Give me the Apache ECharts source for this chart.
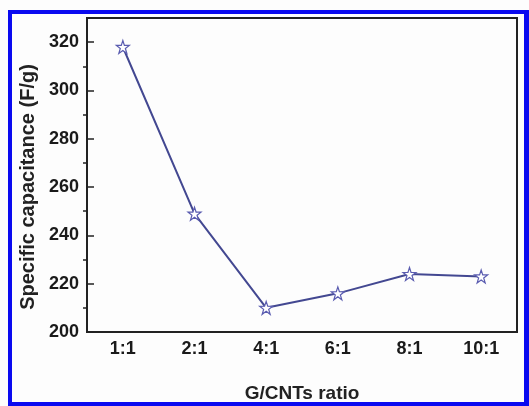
<!DOCTYPE html>
<html>
<head>
<meta charset="utf-8">
<script src="https://cdn.jsdelivr.net/npm/echarts@6/dist/echarts.min.js"></script>
<style>
html,body{margin:0;padding:0;background:#fff;}
#chart{width:529px;height:406px;}
</style>
</head>
<body>
<div id="chart"></div>
<script>
var categories = ['1:1', '2:1', '4:1', '6:1', '8:1', '10:1'];
var capacitance = [318, 249, 210, 216, 224, 223];
var yMin = 200, yMax = 330, yInterval = 20;
var minorTickValues = [210, 230, 250, 270, 290, 310];

var font = '"Liberation Sans", Arial, sans-serif';
var starPath = 'path://M50,0 L61.8,35.1 L98.9,35.5 L69.1,57.6 L80.2,93 L50,71.6 L19.8,93 L30.9,57.6 L1.1,35.5 L38.2,35.1 Z';

var chart = echarts.init(document.getElementById('chart'), null, {renderer: 'canvas'});
chart.setOption({
  backgroundColor: '#fdfdfd',
  animation: false,
  grid: {left: 87, right: 12, top: 18, bottom: 74, containLabel: false, outerBoundsMode: 'none',
    show: true, borderColor: '#222', borderWidth: 2, backgroundColor: 'transparent'},
  xAxis: {
    type: 'category',
    data: categories,
    boundaryGap: true,
    name: 'G/CNTs ratio',
    nameLocation: 'middle',
    nameGap: 52,
    nameTextStyle: {fontFamily: font, fontWeight: 'bold', fontSize: 19, color: '#222'},
    axisLine: {lineStyle: {color: '#222', width: 2}},
    axisTick: {alignWithLabel: true, inside: true, length: 5, lineStyle: {color: '#222', width: 1.5}},
    axisLabel: {fontFamily: font, fontWeight: 'bold', fontSize: 18, color: '#1a1a1a', margin: 8},
    splitLine: {show: false}
  },
  yAxis: [{
    type: 'value',
    min: yMin, max: yMax, interval: yInterval,
    name: 'Specific capacitance (F/g)',
    nameLocation: 'middle',
    nameGap: 48,
    nameRotate: 90,
    nameTextStyle: {fontFamily: font, fontWeight: 'bold', fontSize: 20, color: '#222', padding: [0, 24, 0, 0]},
    axisLine: {show: true, lineStyle: {color: '#222', width: 2}},
    axisTick: {show: true, inside: true, length: 7, lineStyle: {color: '#222', width: 1.5}},
    axisLabel: {fontFamily: font, fontWeight: 'bold', fontSize: 18, color: '#1a1a1a', margin: 8,
      formatter: function (v) { return v > 320 ? '' : v; }},
    splitLine: {show: false}
  }, {
    type: 'value',
    position: 'left',
    min: yMin, max: yMax,
    axisLine: {show: false},
    axisTick: {show: true, inside: false, length: 4, customValues: minorTickValues, lineStyle: {color: '#222', width: 1.5}},
    axisLabel: {show: false},
    splitLine: {show: false}
  }],
  series: [{
    type: 'line',
    data: capacitance,
    yAxisIndex: 0,
    symbol: starPath,
    symbolSize: 13,
    showAllSymbol: true,
    lineStyle: {color: '#434891', width: 2},
    itemStyle: {color: '#ffffff', borderColor: '#5a5cb0', borderWidth: 1.2},
    z: 3
  }],
  graphic: [
    {type: 'rect', shape: {x: 8, y: 10, width: 4, height: 396}, style: {fill: '#0a0af0'}, silent: true},
    {type: 'rect', shape: {x: 8, y: 10, width: 521, height: 4}, style: {fill: '#0a0af0'}, silent: true},
    {type: 'rect', shape: {x: 8, y: 402, width: 521, height: 4}, style: {fill: '#0a0af0'}, silent: true},
    {type: 'rect', shape: {x: 524, y: 10, width: 5, height: 396}, style: {fill: '#0a0af0'}, silent: true}
  ]
});
</script>
</body>
</html>
